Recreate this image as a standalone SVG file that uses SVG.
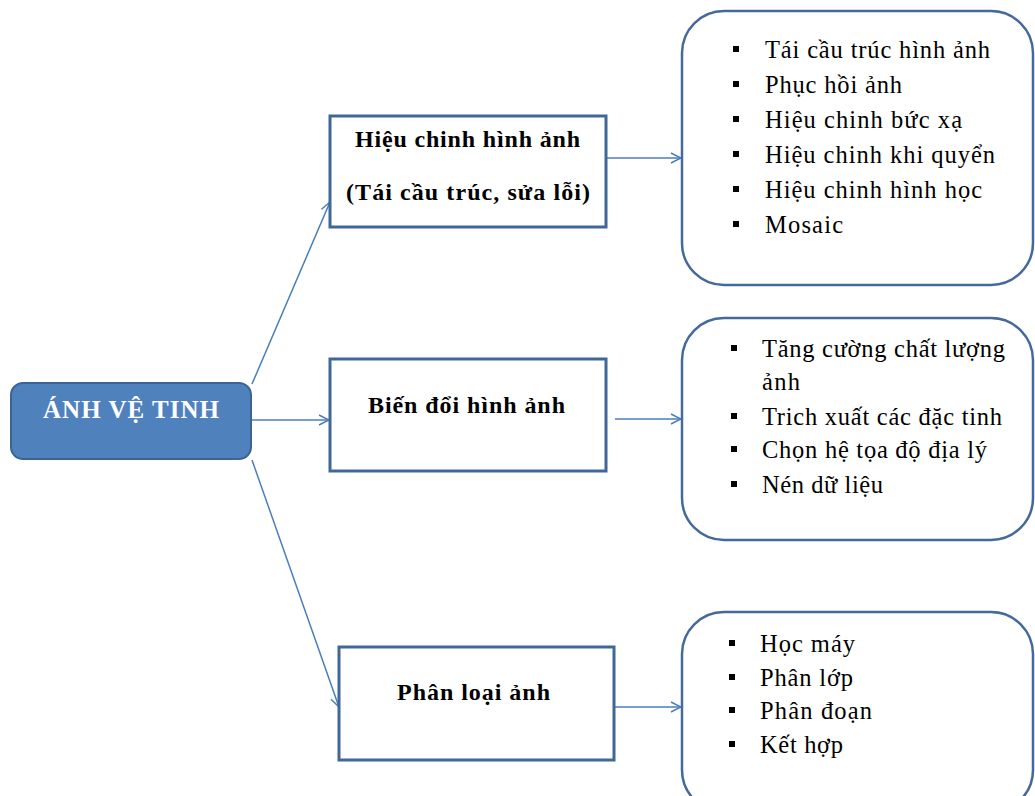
<svg xmlns="http://www.w3.org/2000/svg" width="1035" height="796" viewBox="0 0 1035 796">
<defs>
<style>
.box{fill:#fff;stroke:#3f6898;stroke-width:3}
.rbox{fill:#fff;stroke:#44699a;stroke-width:2.5}
.main{fill:#4f81bd;stroke:#3b6494;stroke-width:2}
.bt{font-family:"Liberation Serif","Times New Roman",serif;font-weight:bold;font-size:24px;fill:#000;text-anchor:middle}
.mt{font-family:"Liberation Serif","Times New Roman",serif;font-weight:bold;font-size:25px;fill:#fff;text-anchor:middle}
.it{font-family:"Liberation Serif","Times New Roman",serif;font-size:24.5px;fill:#000}
.bul{fill:#000}
.conn{stroke:#4a7ebb;stroke-width:1.5;fill:none;marker-end:url(#arr)}
</style>
<marker id="arr" viewBox="0 0 12 12" refX="11" refY="6" markerWidth="12" markerHeight="12" markerUnits="userSpaceOnUse" orient="auto">
<path d="M1,1 L11,6 L1,11" fill="none" stroke="#4a7ebb" stroke-width="1.5"/>
</marker>
</defs>
<rect width="1035" height="796" fill="#fff"/>

<g id="connectors">
<line class="conn" x1="252" y1="384" x2="330" y2="202"/>
<line class="conn" x1="251" y1="420" x2="329" y2="420"/>
<line class="conn" x1="252" y1="460" x2="339" y2="707"/>
<line class="conn" x1="606" y1="158" x2="681" y2="158"/>
<line class="conn" x1="615" y1="419" x2="681" y2="419"/>
<line class="conn" x1="614" y1="707" x2="681" y2="707"/>
</g>

<g id="node-main">
<rect class="main" x="11" y="383" width="240" height="76" rx="12"/>
<text class="mt" x="131" y="418" textLength="176" lengthAdjust="spacing">ÁNH VỆ TINH</text>
</g>

<g id="node-hieuchinh">
<rect class="box" x="330" y="116" width="276" height="111"/>
<text class="bt" x="467.5" y="147" textLength="225" lengthAdjust="spacing">Hiệu chinh hình ảnh</text>
<text class="bt" x="468" y="200" textLength="244" lengthAdjust="spacing">(Tái cầu trúc, sửa lỗi)</text>
</g>

<g id="node-biendoi">
<rect class="box" x="330" y="359" width="276" height="112"/>
<text class="bt" x="466.5" y="413" textLength="197" lengthAdjust="spacing">Biến đổi hình ảnh</text>
</g>

<g id="node-phanloai">
<rect class="box" x="339" y="647" width="275" height="113"/>
<text class="bt" x="473.5" y="700" textLength="153" lengthAdjust="spacing">Phân loại ảnh</text>
</g>

<g id="list-hieuchinh">
<rect class="rbox" x="682" y="11" width="351" height="274" rx="42"/>
<rect class="bul" x="733" y="46" width="6" height="6"/>
<text class="it" x="765" y="58" textLength="225" lengthAdjust="spacing">Tái cầu trúc hình ảnh</text>
<rect class="bul" x="733" y="81" width="6" height="6"/>
<text class="it" x="765" y="93" textLength="137" lengthAdjust="spacing">Phục hồi ảnh</text>
<rect class="bul" x="733" y="116" width="6" height="6"/>
<text class="it" x="765" y="128" textLength="197" lengthAdjust="spacing">Hiệu chinh bức xạ</text>
<rect class="bul" x="733" y="151" width="6" height="6"/>
<text class="it" x="765" y="163" textLength="230" lengthAdjust="spacing">Hiệu chinh khi quyển</text>
<rect class="bul" x="733" y="186" width="6" height="6"/>
<text class="it" x="765" y="198" textLength="217" lengthAdjust="spacing">Hiệu chinh hình học</text>
<rect class="bul" x="733" y="221" width="6" height="6"/>
<text class="it" x="765" y="233" textLength="78" lengthAdjust="spacing">Mosaic</text>
</g>

<g id="list-biendoi">
<rect class="rbox" x="682" y="318" width="351" height="222" rx="42"/>
<rect class="bul" x="731" y="345" width="6" height="6"/>
<text class="it" x="762" y="357" textLength="243" lengthAdjust="spacing">Tăng cường chất lượng</text>
<text class="it" x="762" y="390" textLength="38" lengthAdjust="spacing">ảnh</text>
<rect class="bul" x="731" y="413" width="6" height="6"/>
<text class="it" x="762" y="425" textLength="240" lengthAdjust="spacing">Trich xuất các đặc tinh</text>
<rect class="bul" x="731" y="446" width="6" height="6"/>
<text class="it" x="762" y="458" textLength="225" lengthAdjust="spacing">Chọn hệ tọa độ địa lý</text>
<rect class="bul" x="731" y="481" width="6" height="6"/>
<text class="it" x="762" y="493" textLength="121" lengthAdjust="spacing">Nén dữ liệu</text>
</g>

<g id="list-phanloai">
<rect class="rbox" x="682" y="612" width="351" height="200" rx="42"/>
<rect class="bul" x="729" y="640" width="6" height="6"/>
<text class="it" x="760" y="652" textLength="95" lengthAdjust="spacing">Học máy</text>
<rect class="bul" x="729" y="674" width="6" height="6"/>
<text class="it" x="760" y="686" textLength="93" lengthAdjust="spacing">Phân lớp</text>
<rect class="bul" x="729" y="707" width="6" height="6"/>
<text class="it" x="760" y="719" textLength="112" lengthAdjust="spacing">Phân đoạn</text>
<rect class="bul" x="729" y="741" width="6" height="6"/>
<text class="it" x="760" y="753" textLength="83" lengthAdjust="spacing">Kết hợp</text>
</g>
</svg>
